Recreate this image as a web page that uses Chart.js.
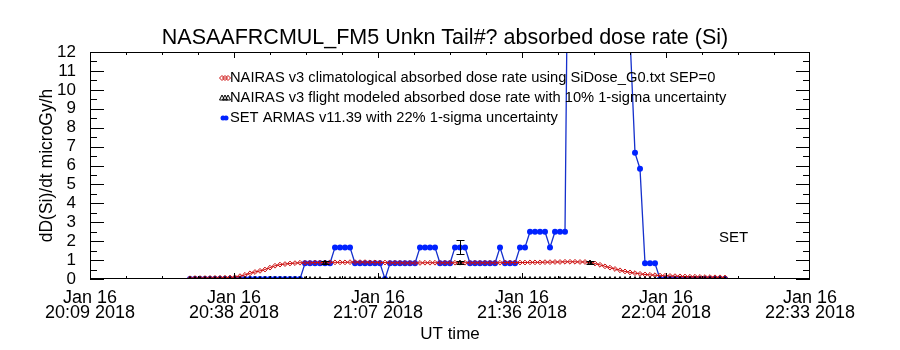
<!DOCTYPE html>
<html lang="en">
<head>
    <meta charset="UTF-8">
    <title>NASAAFRCMUL_FM5 absorbed dose rate (Si)</title>
    <script src="https://cdn.jsdelivr.net/npm/chart.js"></script>
    <style>
        body { margin: 0; background: #fff; }
        #wrap { width: 900px; height: 350px; }
    </style>
</head>
<body>
<div id="wrap"><canvas id="doseChart" width="900" height="350"></canvas></div>
<script>
    // time axis in minutes after midnight UT, one sample per minute from 20:29:42
    const startMin = 1229.7;
    const xMin = 1209.7, xMax = 1353.7;
    const xTickMinutes = [1209.7, 1238.5, 1267.3, 1296.1, 1324.9, 1353.7];
    const xTickLabels = [
        ["Jan 16", "20:09 2018"], ["Jan 16", "20:38 2018"], ["Jan 16", "21:07 2018"],
        ["Jan 16", "21:36 2018"], ["Jan 16", "22:04 2018"], ["Jan 16", "22:33 2018"]
    ];
    const yTickValues = [0, 1, 2, 3, 4, 5, 6, 7, 8, 9, 10, 11, 12];

    // NAIRAS v3 climatological
    const climRate = [
        0.04, 0.05, 0.05, 0.05, 0.06, 0.06, 0.07, 0.07, 0.08, 0.10,
        0.15, 0.22, 0.30, 0.37, 0.43, 0.50, 0.60, 0.70, 0.76, 0.79,
        0.82, 0.84, 0.86, 0.86, 0.86, 0.87, 0.87, 0.87, 0.88, 0.88,
        0.88, 0.88, 0.89, 0.89, 0.89, 0.89, 0.88, 0.88, 0.87, 0.87,
        0.86, 0.86, 0.86, 0.85, 0.85, 0.85, 0.85, 0.86, 0.86, 0.86,
        0.86, 0.86, 0.86, 0.86, 0.86, 0.86, 0.86, 0.86, 0.86, 0.86,
        0.86, 0.86, 0.86, 0.87, 0.87, 0.87, 0.87, 0.87, 0.88, 0.88,
        0.88, 0.89, 0.89, 0.90, 0.90, 0.91, 0.91, 0.91, 0.90, 0.90,
        0.87, 0.82, 0.75, 0.67, 0.60, 0.53, 0.46, 0.40, 0.35, 0.31,
        0.27, 0.24, 0.22, 0.20, 0.18, 0.17, 0.16, 0.15, 0.14, 0.13,
        0.12, 0.12, 0.11, 0.10, 0.10, 0.09, 0.09, 0.08
    ];
    // NAIRAS v3 flight modeled
    const flightRate = [
        0, 0, 0, 0, 0, 0, 0, 0, 0, 0,
        0, 0, 0, 0, 0, 0, 0, 0, 0, 0,
        0, 0, 0, 0, 0, 0, 0, 0.86, 0, 0,
        0, 0, 0, 0, 0, 0, 0, 0, 0, 0,
        0, 0, 0, 0, 0, 0, 0, 0, 0, 0,
        0, 0, 0, 0, 0.86, 0, 0, 0, 0, 0,
        0, 0, 0, 0, 0, 0, 0, 0, 0, 0,
        0, 0, 0, 0, 0, 0, 0, 0, 0, 0,
        0.87, 0, 0, 0, 0, 0, 0, 0, 0, 0,
        0, 0, 0, 0, 0, 0, 0, 0, 0, 0,
        0, 0, 0, 0, 0, 0, 0, 0
    ];
    // SET ARMAS v11.39
    const armasRate = [
        0, 0, 0, 0, 0, 0, 0, 0, 0, 0,
        0, 0, 0, 0, 0, 0, 0, 0, 0, 0,
        0, 0, 0, 0.83, 0.83, 0.83, 0.83, 0.83, 0.83, 1.67,
        1.67, 1.67, 1.67, 0.83, 0.83, 0.83, 0.83, 0.83, 0.83, 0,
        0.83, 0.83, 0.83, 0.83, 0.83, 0.83, 1.67, 1.67, 1.67, 1.67,
        0.83, 0.83, 0.83, 1.67, 1.67, 1.67, 0.83, 0.83, 0.83, 0.83,
        0.83, 0.83, 1.67, 0.83, 0.83, 0.83, 1.67, 1.67, 2.5, 2.5,
        2.5, 2.5, 1.67, 2.5, 2.5, 2.5, 30, 41, 47, 52,
        49, 44, 38, 33, 29, 24, 19, 15, 12.8, 6.67,
        5.83, 0.83, 0.83, 0.83, 0, 0, 0, 0, 0, 0,
        0, 0, 0, 0, 0, 0, 0, 0
    ];
    // where the 1-sigma bars are drawn
    const flightErrIdx = [27, 54, 80];
    const armasErrIdx = [54];
    const flightSigma = 0.10, armasSigma = 0.22;

    const timesMin = climRate.map((v, i) => startMin + i);
    const pts = arr => arr.map((v, i) => ({ x: timesMin[i], y: v }));

    const FONT = "'Liberation Sans', Arial, sans-serif";

    // IDL style box with inward ticks, error bars, legend and labels
    const decor = {
        id: "decor",
        afterDatasetsDraw(chart) {
            const { ctx, chartArea: a, scales: { x, y } } = chart;
            ctx.save();
            ctx.strokeStyle = "#000";
            ctx.lineWidth = 1;

            // error bars
            function bar(ds, idx, sig) {
                idx.forEach(i => {
                    const v = ds[i];
                    const px = Math.round(x.getPixelForValue(timesMin[i])) + 0.5;
                    const y1 = y.getPixelForValue(v * (1 + sig));
                    const y2 = y.getPixelForValue(v * (1 - sig));
                    ctx.beginPath();
                    ctx.moveTo(px, y1); ctx.lineTo(px, y2);
                    ctx.moveTo(px - 4, Math.round(y1) + 0.5); ctx.lineTo(px + 4, Math.round(y1) + 0.5);
                    ctx.moveTo(px - 4, Math.round(y2) + 0.5); ctx.lineTo(px + 4, Math.round(y2) + 0.5);
                    ctx.stroke();
                });
            }
            bar(flightRate, flightErrIdx, flightSigma);
            bar(armasRate, armasErrIdx, armasSigma);

            // frame
            ctx.strokeRect(a.left + 0.5, a.top + 0.5, a.right - a.left - 1, a.bottom - a.top - 1);
            ctx.beginPath();
            for (let k = 0; k < xTickMinutes.length - 1; k++) {
                for (let j = 0; j < 4; j++) {
                    const t = xTickMinutes[k] + j * (xTickMinutes[k + 1] - xTickMinutes[k]) / 4;
                    const px = Math.round(x.getPixelForValue(t)) + 0.5;
                    const len = j === 0 ? 6 : 3;
                    ctx.moveTo(px, a.bottom); ctx.lineTo(px, a.bottom - len);
                    ctx.moveTo(px, a.top); ctx.lineTo(px, a.top + len);
                }
            }
            for (let v = 0; v <= 12; v += 0.5) {
                const py = Math.round(y.getPixelForValue(v)) + 0.5;
                const len = Number.isInteger(v) ? 14 : 7;
                ctx.moveTo(a.left, py); ctx.lineTo(a.left + len, py);
                ctx.moveTo(a.right, py); ctx.lineTo(a.right - len, py);
            }
            ctx.stroke();

            // title
            ctx.fillStyle = "#000";
            ctx.textAlign = "center";
            ctx.textBaseline = "middle";
            ctx.font = "21.5px " + FONT;
            ctx.fillText("NASAAFRCMUL_FM5 Unkn Tail#? absorbed dose rate (Si)", 445, 38);

            // legend
            ctx.textAlign = "left";
            ctx.font = "14.7px " + FONT;
            const rows = [78, 98, 118];
            ctx.fillText("NAIRAS v3 climatological absorbed dose rate using SiDose_G0.txt SEP=0", 230, rows[0]);
            ctx.fillText("NAIRAS v3 flight modeled absorbed dose rate with 10% 1-sigma uncertainty", 230, rows[1]);
            ctx.fillText("SET ARMAS v11.39 with 22% 1-sigma uncertainty", 230, rows[2]);
            ctx.strokeStyle = "#cc1010";
            [222, 225, 228].forEach(cx => {
                ctx.beginPath();
                ctx.moveTo(cx, rows[0] - 2.5); ctx.lineTo(cx + 2.5, rows[0]);
                ctx.lineTo(cx, rows[0] + 2.5); ctx.lineTo(cx - 2.5, rows[0]);
                ctx.closePath(); ctx.stroke();
            });
            ctx.strokeStyle = "#000";
            [222, 225, 228].forEach(cx => {
                ctx.beginPath();
                ctx.moveTo(cx, rows[1] - 3); ctx.lineTo(cx + 2.5, rows[1] + 2);
                ctx.lineTo(cx - 2.5, rows[1] + 2); ctx.closePath(); ctx.stroke();
            });
            ctx.fillStyle = "#0022ff";
            [223, 226].forEach(cx => {
                ctx.beginPath(); ctx.arc(cx, rows[2], 2.5, 0, Math.PI * 2); ctx.fill();
            });

            ctx.fillStyle = "#000";
            ctx.font = "15px " + FONT;
            ctx.fillText("SET", 719, 238);
            ctx.restore();
        }
    };

    new Chart(document.getElementById("doseChart"), {
        type: "line",
        data: {
            datasets: [
                {
                    label: "NAIRAS v3 flight modeled",
                    data: pts(flightRate), order: 0, showLine: false,
                    pointStyle: "triangle", pointRadius: 2.5, pointBorderWidth: 1,
                    pointBorderColor: "#000", pointBackgroundColor: "rgba(0,0,0,0)", clip: 0
                },
                {
                    label: "NAIRAS v3 climatological",
                    data: pts(climRate), order: 1,
                    borderColor: "#cc1010", borderWidth: 1,
                    pointStyle: "rectRot", pointRadius: 2.4, pointBorderWidth: 1,
                    pointBorderColor: "#cc1010", pointBackgroundColor: "rgba(0,0,0,0)", clip: 0
                },
                {
                    label: "SET ARMAS v11.39",
                    data: pts(armasRate), order: 2,
                    borderColor: "#1530cc", borderWidth: 1.3,
                    pointStyle: "circle", pointRadius: 3, pointBorderWidth: 0,
                    pointBackgroundColor: "#0022ff", clip: 0
                }
            ]
        },
        options: {
            responsive: false,
            animation: false,
            events: [],
            layout: { padding: { top: 52, right: 90, left: 0, bottom: 0 } },
            plugins: { legend: { display: false }, tooltip: { enabled: false } },
            scales: {
                x: {
                    type: "linear", min: xMin, max: xMax,
                    grid: { display: false }, border: { display: false },
                    afterFit(s) { s.height = 71; },
                    afterBuildTicks(s) { s.ticks = xTickMinutes.map(v => ({ value: v })); },
                    ticks: {
                        autoSkip: false, maxRotation: 0, padding: 4, color: "#000",
                        font: { family: FONT, size: 18, lineHeight: 0.8 },
                        callback: (v, i) => xTickLabels[i]
                    },
                    title: {
                        display: true, text: "UT time", color: "#000",
                        font: { family: FONT, size: 17 }, padding: { top: 0, bottom: 5 }
                    }
                },
                y: {
                    min: 0, max: 12,
                    grid: { display: false }, border: { display: false },
                    afterFit(s) { s.width = 90; },
                    afterBuildTicks(s) { s.ticks = yTickValues.map(v => ({ value: v })); },
                    ticks: { autoSkip: false, padding: 6, color: "#000", font: { family: FONT, size: 17 } },
                    title: {
                        display: true, text: "dD(Si)/dt microGy/h", color: "#000",
                        font: { family: FONT, size: 17.5 }, padding: { top: 37, bottom: 0 }
                    }
                }
            }
        },
        plugins: [decor]
    });
</script>
</body>
</html>
